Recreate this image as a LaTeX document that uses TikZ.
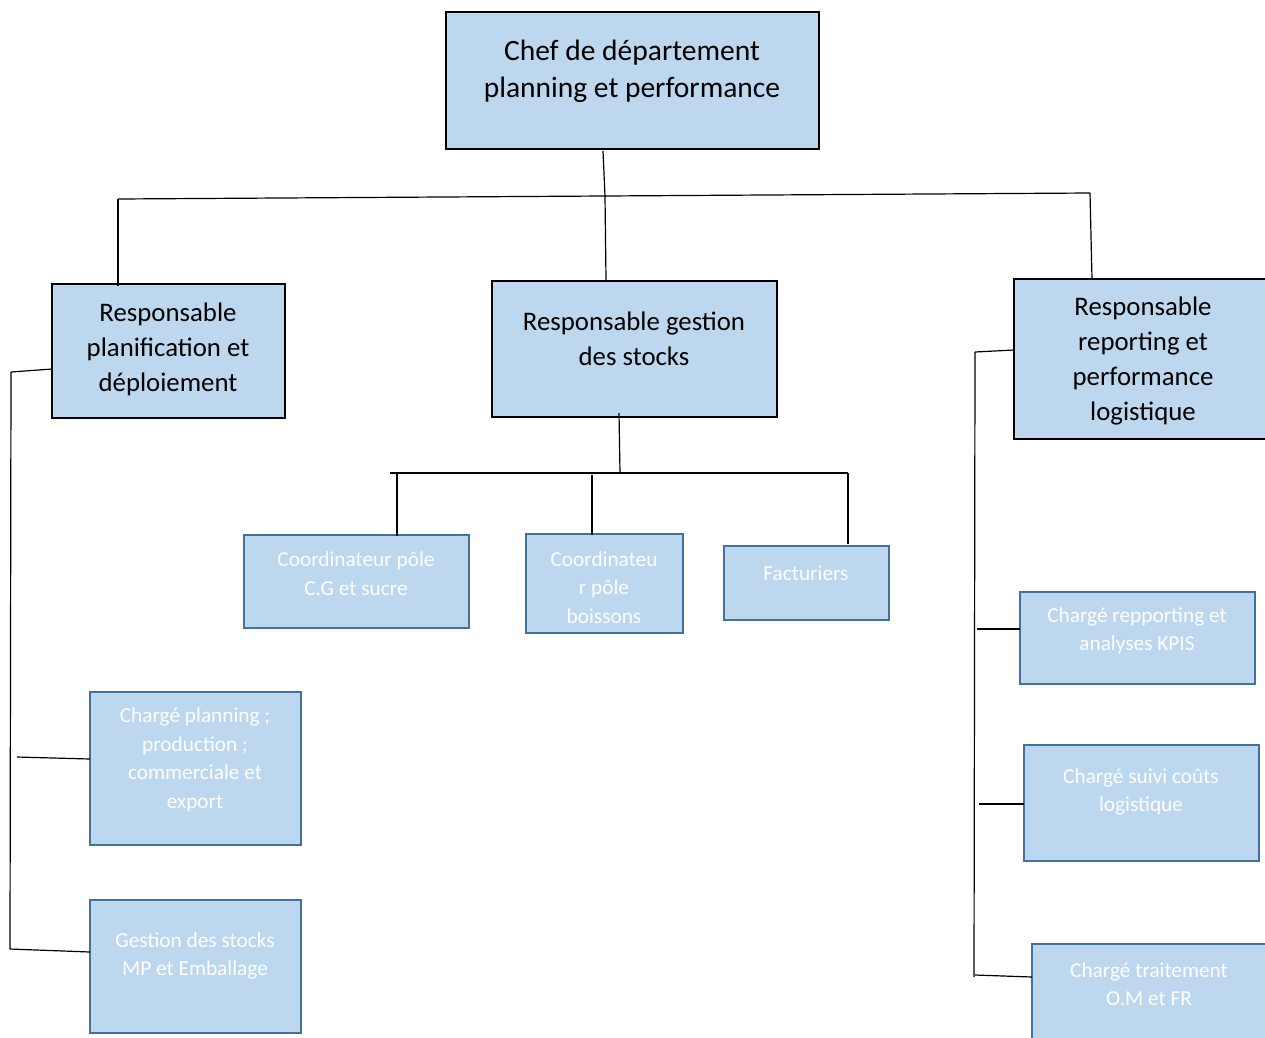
\documentclass[tikz,border=0pt]{standalone}
\usepackage{fontspec}
\setmainfont{Carlito}
\definecolor{boxfill}{HTML}{BDD7EE}
\definecolor{boxedge}{HTML}{41719C}
\begin{document}
\begin{tikzpicture}[x=1pt,y=-1pt,
  headbox/.style={draw=black,line width=2.4pt,fill=boxfill,inner sep=0pt},
  subbox/.style={draw=boxedge,line width=2.2pt,fill=boxfill,inner sep=0pt},
  headtxt/.style={align=center,text=black,inner sep=0pt,font=\fontsize{26.8}{35}\selectfont},
  subtxt/.style={align=center,text=white,inner sep=0pt,font=\fontsize{21.3}{28.5}\selectfont},
  link/.style={draw=black,line width=1.2pt}]
\useasboundingbox (0,0) rectangle (1265,1037);

% --- boxes (corner to corner) ---
\draw[headbox] (446,12) rectangle (819,149);
\node[headtxt,font=\fontsize{29.5}{37}\selectfont] (chef) at (632,71)
  {Chef de département\\planning et performance};
\coordinate (chefS) at (603,151);

\draw[headbox] (52,284) rectangle (285,418);
\node[headtxt] (rplan) at (168,349) {Responsable\\planification et\\déploiement};
\coordinate (rplanW) at (52,369);

\draw[headbox] (492,281) rectangle (777,417);
\node[headtxt] (rstock) at (634,338.5) {Responsable gestion\\des stocks};
\coordinate (rstockS) at (619,413);

\draw[headbox] (1014,279) rectangle (1280,439);
\node[headtxt] (rrep) at (1143,361) {Responsable\\reporting et\\performance\\logistique};
\coordinate (rrepW) at (1014,350);

\draw[subbox] (244,535) rectangle (469,628);
\node[subtxt] (cocg) at (356,573.5) {Coordinateur pôle\\C.G et sucre};

\draw[subbox] (526,534) rectangle (683,633);
\node[subtxt] (cobo) at (604,587.5) {Coordinateu\\r pôle\\boissons};

\draw[subbox] (724,546) rectangle (889,620);
\node[subtxt] (fact) at (806,573.5) {Facturiers};

\draw[subbox] (90,692) rectangle (301,845);
\node[subtxt] (cplan) at (195,760) {Chargé planning ;\\production ;\\commerciale et\\export};

\draw[subbox] (90,900) rectangle (301,1033);
\node[subtxt] (gstk) at (195,956) {Gestion des stocks\\MP et Emballage};

\draw[subbox] (1020,592) rectangle (1255,684);
\node[subtxt] (crep) at (1137,631) {Chargé repporting et\\analyses KPIS};

\draw[subbox] (1024,745) rectangle (1259,861);
\node[subtxt] (csuivi) at (1141,792) {Chargé suivi coûts\\logistique};

\draw[subbox] (1032,944) rectangle (1280,1060);
\node[subtxt] (ctrait) at (1149,984) {Chargé traitement\\O.M et FR};

% --- top level links ---
\coordinate (busL) at (118,199);
\coordinate (busM) at (605,196);
\coordinate (busR) at (1090,193);
\draw[link] (chefS) -- (busM);
\draw[link] (busL) -- (busR);
\draw[link] (busL) -- (118,286);
\draw[link] (busM) -- (606,280);
\draw[link] (busR) -- (1092,279);

% --- stock branch ---
\coordinate (sbus) at (620,473);
\draw[link] (rstockS) -- (sbus);
\draw[link] (390,473) -- (848,473);
\draw[link] (397,473) -- (397,536);
\draw[link] (592,475) -- (592,535);
\draw[link] (848,473) -- (848,544);

% --- planning branch (left rail) ---
\coordinate (lrailT) at (11,372);
\coordinate (lrailB) at (10,949);
\draw[link] (rplanW) -- (lrailT);
\draw[link] (lrailT) -- (lrailB);
\draw[link] (17,757) -- (90,759);
\draw[link] (lrailB) -- (90,952);

% --- reporting branch (right rail) ---
\coordinate (rrailT) at (975,352);
\coordinate (rrailB) at (974,977);
\draw[link] (rrepW) -- (rrailT);
\draw[link] (rrailT) -- (rrailB);
\draw[link] (977,629) -- (1020,629);
\draw[link] (979,804) -- (1024,804);
\draw[link] (975,975) -- (1032,977);
\end{tikzpicture}
\end{document}
